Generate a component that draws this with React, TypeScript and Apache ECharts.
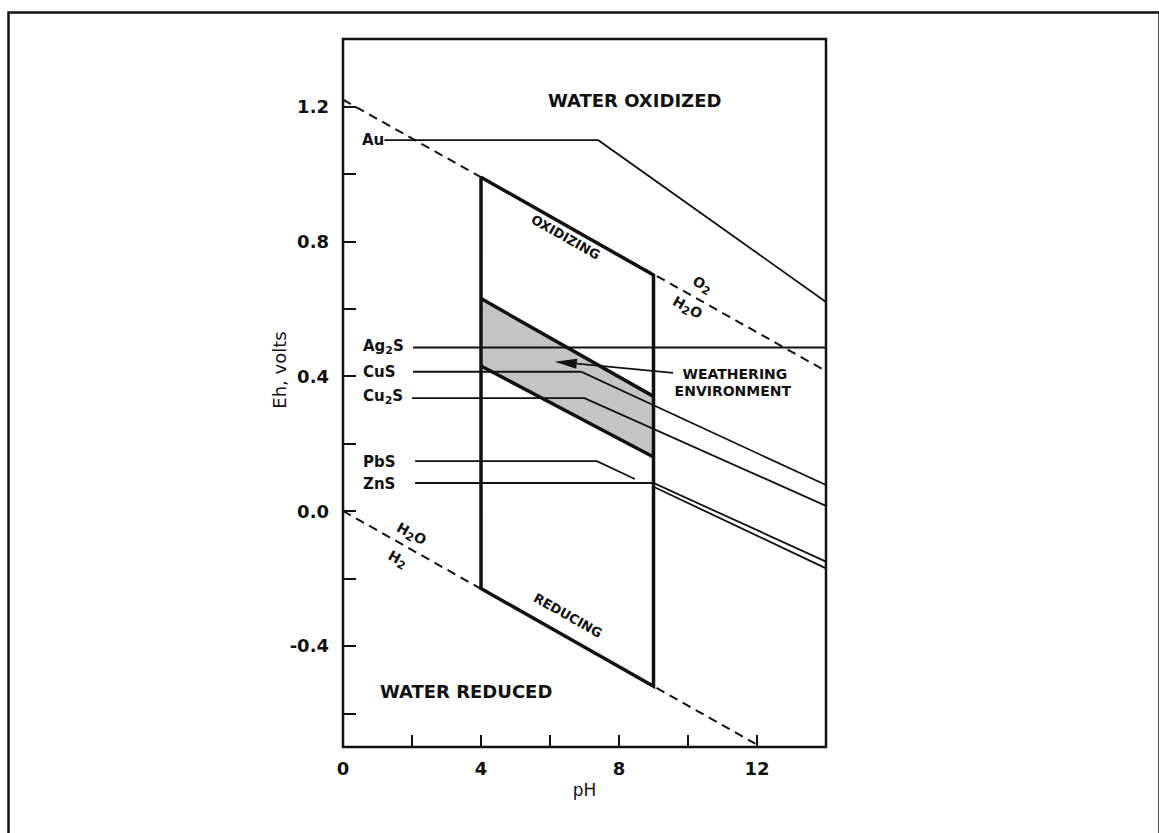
import React, { useEffect, useRef } from "react";
import * as echarts from "echarts";

// Axis ticks and labels
const xTicks = [2, 4, 6, 8, 10, 12];
const xLabels = [0, 4, 8, 12];
const yTicks = [-0.6, -0.4, -0.2, 0, 0.2, 0.4, 0.6, 0.8, 1.0, 1.2];
const yLabels = [-0.4, 0, 0.4, 0.8, 1.2];

// Water stability limits (pH, Eh)
const o2H2oLine = [[0, 1.22], [14, 0.415]];
const h2oH2Line = [[0, 0.0], [11.95, -0.69]];

// Natural environment box
const boxOutline = [[4, 0.99], [9, 0.7], [9, -0.52], [4, -0.23], [4, 0.99]];

// Weathering environment band
const bandUpper = [[4, 0.63], [9, 0.34]];
const bandLower = [[4, 0.43], [9, 0.16]];
const bandFill = [[4, 0.63], [9, 0.34], [9, 0.16], [4, 0.43]];

// Sulfide / metal oxidation boundaries
const auLine = [[1.2, 1.1], [7.4, 1.1], [14, 0.62]];
const ag2sLine = [[2.03, 0.485], [14, 0.485]];
const cusLine = [[2.03, 0.413], [6.9, 0.413], [14, 0.077]];
const cu2sLine = [[2.0, 0.335], [7.0, 0.335], [14, 0.015]];
const pbsLine = [[2.09, 0.148], [7.36, 0.148], [8.46, 0.095]];
const znsLine = [[2.09, 0.083], [9, 0.083], [14, -0.15]];
const znsLine2 = [[9, 0.072], [14, -0.17]];

// Leader arrow for "weathering environment"
const arrowLine = [[9.57, 0.41], [6.14, 0.443]];

// Labels ({s|..} = subscript)
const elementNames = ["Au", "Ag{s|2}S", "CuS", "Cu{s|2}S", "PbS", "ZnS"];
const elementPos = [[0.55, 1.1], [0.58, 0.488], [0.58, 0.413], [0.58, 0.341], [0.58, 0.146], [0.58, 0.08]];

const regionNames = ["WATER OXIDIZED", "WATER REDUCED"];
const regionPos = [[5.94, 1.218], [1.07, -0.535]];

const slantNames = ["OXIDIZING", "REDUCING", "O{s|2}", "H{s|2}O", "H{s|2}O", "H{s|2}"];
const slantPos = [[6.45, 0.812], [6.52, -0.31], [10.42, 0.672], [9.99, 0.604], [1.99, -0.067], [1.59, -0.142]];
const slantRot = [-29.5, -29.5, -29, -29, -29, -29];
const slantSize = [13, 13, 14, 14, 14, 14];

const weatherNames = ["WEATHERING", "ENVIRONMENT"];
const weatherPos = [[11.36, 0.407], [11.3, 0.356]];

const FONT = "DejaVu Sans";
const INK = "#111";

const subRich = {
  s: { fontFamily: FONT, fontSize: 11, fontWeight: "bold", color: INK, padding: [8, 0, 0, 0] },
};

function lineSeries(data: number[][], width: number, dashed = false) {
  return {
    type: "line",
    data,
    symbol: "none",
    silent: true,
    z: 3,
    lineStyle: {
      color: INK,
      width,
      type: dashed ? [9, 6] : "solid",
      cap: "butt",
      join: "miter",
    },
  };
}

function labelSeries(names: string[], pos: number[][], label: any, extra?: (i: number) => any) {
  return {
    type: "scatter",
    symbolSize: 0,
    silent: true,
    z: 5,
    itemStyle: { opacity: 1 },
    data: names.map((n, i) => ({
      name: n,
      value: pos[i],
      label: Object.assign({}, label, extra ? extra(i) : {}),
    })),
    label: Object.assign({ show: true, formatter: "{b}", opacity: 1, rich: subRich }, label),
  };
}

export default function App() {
  const ref = useRef<HTMLDivElement>(null);
  useEffect(() => {
    if (!ref.current) return;
    const chart = echarts.init(ref.current, null, { renderer: "svg" });
    const tickFont = { fontFamily: FONT, fontSize: 18, fontWeight: "bold", color: INK };
    const option: any = {
      animation: false,
      backgroundColor: "#fff",
      grid: {
        left: 343,
        top: 39,
        width: 483,
        height: 708,
        show: true,
        borderColor: INK,
        borderWidth: 2.5,
        backgroundColor: "transparent",
      },
      xAxis: {
        type: "value",
        min: 0,
        max: 14,
        axisLine: { show: false, onZero: false },
        splitLine: { show: false },
        axisTick: { show: true, inside: true, length: 12, lineStyle: { color: INK, width: 2 }, customValues: xTicks },
        axisLabel: { ...tickFont, margin: 12, customValues: xLabels, formatter: (v: number) => String(v) },
        name: "pH",
        nameLocation: "middle",
        nameGap: 34,
        nameTextStyle: { fontFamily: FONT, fontSize: 17, color: INK },
      },
      yAxis: {
        type: "value",
        min: -0.7,
        max: 1.4,
        axisLine: { show: false, onZero: false },
        splitLine: { show: false },
        axisTick: { show: true, inside: true, length: 13, lineStyle: { color: INK, width: 2 }, customValues: yTicks },
        axisLabel: { ...tickFont, margin: 14, customValues: yLabels, formatter: (v: number) => v.toFixed(1) },
      },
      graphic: [
        {
          type: "rect",
          left: 6,
          top: 10,
          shape: { width: 1151, height: 840 },
          style: { fill: "none", stroke: INK, lineWidth: 2.5 },
          silent: true,
        },
        {
          type: "text",
          x: 279,
          y: 370,
          rotation: Math.PI / 2,
          style: {
            text: "Eh, volts",
            fontFamily: FONT,
            fontSize: 18,
            fill: INK,
            align: "center",
            verticalAlign: "middle",
          },
        },
      ],
      series: [
        {
          type: "custom",
          silent: true,
          z: 1,
          data: [0],
          renderItem: (_p: any, api: any) => ({
            type: "polygon",
            shape: { points: bandFill.map((p) => api.coord(p)) },
            style: { fill: "#c4c4c4" },
          }),
        },
        lineSeries(o2H2oLine, 2, true),
        lineSeries(h2oH2Line, 2, true),
        lineSeries(boxOutline, 3.5),
        lineSeries(bandUpper, 3.5),
        lineSeries(bandLower, 3.5),
        lineSeries(auLine, 1.8),
        lineSeries(ag2sLine, 1.8),
        lineSeries(cusLine, 1.8),
        lineSeries(cu2sLine, 1.8),
        lineSeries(pbsLine, 1.8),
        lineSeries(znsLine, 1.8),
        lineSeries(znsLine2, 1.8),
        {
          type: "custom",
          silent: true,
          z: 4,
          data: [0],
          renderItem: (_p: any, api: any) => {
            const a = api.coord(arrowLine[0]);
            const b = api.coord(arrowLine[1]);
            const dx = b[0] - a[0];
            const dy = b[1] - a[1];
            const len = Math.sqrt(dx * dx + dy * dy);
            const ux = dx / len;
            const uy = dy / len;
            const hl = 22;
            const hw = 5;
            const base = [b[0] - ux * hl, b[1] - uy * hl];
            return {
              type: "group",
              children: [
                {
                  type: "line",
                  shape: { x1: a[0], y1: a[1], x2: base[0], y2: base[1] },
                  style: { stroke: INK, lineWidth: 1.8 },
                },
                {
                  type: "polygon",
                  shape: {
                    points: [
                      b,
                      [base[0] - uy * hw, base[1] + ux * hw],
                      [base[0] + uy * hw, base[1] - ux * hw],
                    ],
                  },
                  style: { fill: INK },
                },
              ],
            };
          },
        },
        labelSeries(elementNames, elementPos, {
          position: "right",
          distance: 0,
          fontFamily: FONT,
          fontSize: 15,
          fontWeight: "bold",
          color: INK,
        }),
        labelSeries(regionNames, regionPos, {
          position: "right",
          distance: 0,
          fontFamily: FONT,
          fontSize: 18,
          fontWeight: "bold",
          color: INK,
        }),
        labelSeries(weatherNames, weatherPos, {
          position: "inside",
          fontFamily: FONT,
          fontSize: 14,
          fontWeight: "bold",
          color: INK,
        }),
        labelSeries(
          slantNames,
          slantPos,
          { position: "inside", fontFamily: FONT, fontWeight: "bold", color: INK },
          (i) => ({ rotate: slantRot[i], fontSize: slantSize[i] })
        ),
      ],
    };
    chart.setOption(option);
    return () => chart.dispose();
  }, []);
  return (
    <div
      ref={ref}
      style={{ position: "absolute", left: 0, top: 0, width: 1159, height: 833, background: "#fff" }}
    />
  );
}
